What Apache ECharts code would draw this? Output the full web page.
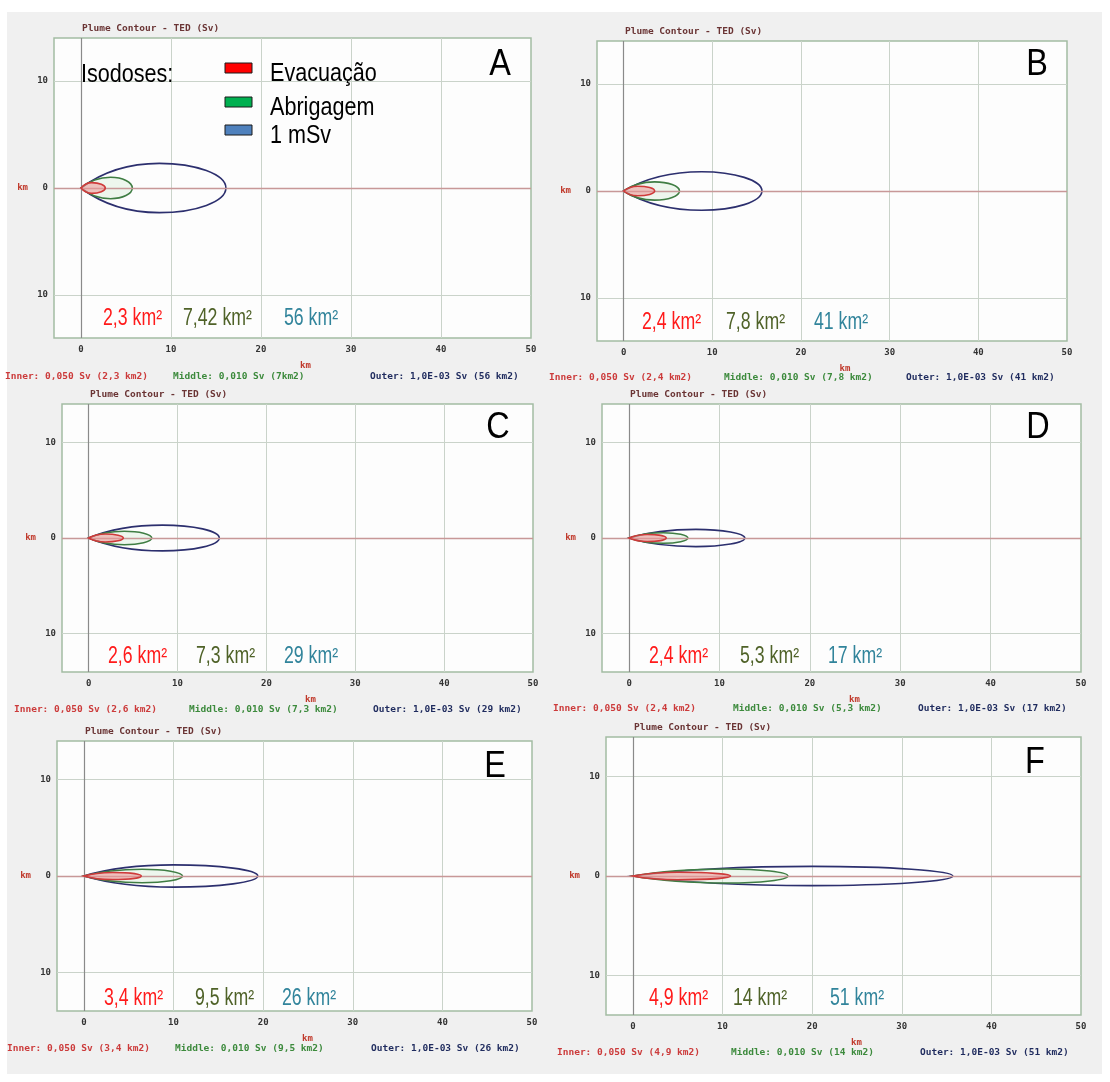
<!DOCTYPE html>
<html>
<head>
<meta charset="utf-8">
<script src="https://cdn.jsdelivr.net/npm/echarts@6/dist/echarts.min.js"></script>
<style>
  html, body { margin: 0; padding: 0; background: #fff; }
  .frame { position: absolute; left: 7px; top: 12px; width: 1095px; height: 1062px; background: #f0f0f0; }
  #chart { position: absolute; left: 0; top: 0; width: 1110px; height: 1082px; }
</style>
</head>
<body>
<div class="frame"></div>
<div id="chart"></div>
<script>
// painéis
const panels = ['A', 'B', 'C', 'D', 'E', 'F']

// contornos: [início km, fim km, meia largura máx km, posição da largura máx km]
const innerPlume = [[0, 2.7, 0.5, 1.2], [0, 3.5, 0.45, 1.6], [0, 3.9, 0.42, 1.9], [0, 4.1, 0.36, 2.0], [0, 6.4, 0.37, 3.2], [0, 10.9, 0.38, 5.0]]
const middlePlume = [[0, 5.7, 1.0, 3.3], [0, 6.3, 0.85, 3.5], [0, 7.1, 0.7, 4.0], [0, 6.5, 0.55, 3.8], [0, 11.0, 0.7, 6.5], [0, 17.3, 0.71, 10.5]]
const outerPlume = [[0, 16.1, 2.3, 8.7], [0, 15.6, 1.8, 8.8], [0, 14.7, 1.35, 8.3], [0, 12.8, 0.9, 7.4], [0, 19.4, 1.15, 10.0], [0, 35.7, 0.97, 20.0]]

// áreas anotadas
const areaInner = ['2,3 km²', '2,4 km²', '2,6 km²', '2,4 km²', '3,4 km²', '4,9 km²']
const areaMiddle = ['7,42 km²', '7,8 km²', '7,3 km²', '5,3 km²', '9,5 km²', '14 km²']
const areaOuter = ['56 km²', '41 km²', '29 km²', '17 km²', '26 km²', '51 km²']

// rodapés
const innerNotes = ['Inner: 0,050 Sv (2,3 km2)', 'Inner: 0,050 Sv (2,4 km2)', 'Inner: 0,050 Sv (2,6 km2)', 'Inner: 0,050 Sv (2,4 km2)', 'Inner: 0,050 Sv (3,4 km2)', 'Inner: 0,050 Sv (4,9 km2)']
const middleNotes = ['Middle: 0,010 Sv (7km2)', 'Middle: 0,010 Sv (7,8 km2)', 'Middle: 0,010 Sv (7,3 km2)', 'Middle: 0,010 Sv (5,3 km2)', 'Middle: 0,010 Sv (9,5 km2)', 'Middle: 0,010 Sv (14 km2)']
const outerNotes = ['Outer: 1,0E-03 Sv (56 km2)', 'Outer: 1,0E-03 Sv (41 km2)', 'Outer: 1,0E-03 Sv (29 km2)', 'Outer: 1,0E-03 Sv (17 km2)', 'Outer: 1,0E-03 Sv (26 km2)', 'Outer: 1,0E-03 Sv (51 km2)']

const legendNames = ['Evacuação', 'Abrigagem', '1 mSv']
const chartTitle = 'Plume Contour - TED (Sv)'

// posições (px): grade, letra, anotações, rodapé
const layout = [
  { grid: [54, 38, 477, 300], letter: [500, 65], area: [103, 183, 284, 319], note: [5, 173, 370, 377] },
  { grid: [597, 41, 470, 300], letter: [1037, 65], area: [642, 726, 814, 323], note: [549, 724, 906, 378] },
  { grid: [62, 404, 471, 268], letter: [498, 428], area: [108, 196, 284, 657], note: [14, 189, 373, 710] },
  { grid: [602, 404, 479, 268], letter: [1038, 428], area: [649, 740, 828, 657], note: [553, 733, 918, 709] },
  { grid: [57, 741, 475, 270], letter: [495, 767], area: [104, 195, 282, 999], note: [7, 175, 371, 1049] },
  { grid: [606, 737, 475, 278], letter: [1035, 763], area: [649, 733, 830, 999], note: [557, 731, 920, 1053] }
]

const MONO = 'DejaVu Sans Mono'
const SANS = '"Liberation Sans", Arial, sans-serif'

// desenha a pluma (forma de gota) com as escalas do eixo
function plumeRenderer (stroke, fill) {
  return function (params, api) {
    const x0 = api.value(0)
    const x1 = api.value(1)
    const w = api.value(2)
    const xp = api.value(3)
    const p = (x, y) => api.coord([x, y]).map(v => v.toFixed(2)).join(',')
    const a1 = x0 + 0.25 * (xp - x0)
    const a2 = x0 + 0.6 * (xp - x0)
    const b1 = xp + 0.55 * (x1 - xp)
    const d = 'M' + p(x0, 0) +
      ' C' + p(a1, 0.6 * w) + ' ' + p(a2, w) + ' ' + p(xp, w) +
      ' C' + p(b1, w) + ' ' + p(x1, 0.55 * w) + ' ' + p(x1, 0) +
      ' C' + p(x1, -0.55 * w) + ' ' + p(b1, -w) + ' ' + p(xp, -w) +
      ' C' + p(a2, -w) + ' ' + p(a1, -0.6 * w) + ' ' + p(x0, 0) + ' Z'
    return {
      type: 'path',
      shape: { pathData: d },
      style: { fill: fill, stroke: stroke, lineWidth: 1.6 }
    }
  }
}

// texto estreito (tipo Arial Narrow)
function narrowText (text, x, y, size, color, scale) {
  return {
    type: 'text', x: x, y: y, z: 100, scaleX: scale,
    style: { text: text, fill: color, font: size + 'px ' + SANS, align: 'left', verticalAlign: 'middle' }
  }
}

const grid = []
const xAxis = []
const yAxis = []
const series = []
const title = []
const graphic = []

panels.forEach((name, i) => {
  const L = layout[i]
  const [gl, gt, gw, gh] = L.grid
  grid.push({
    left: gl, top: gt, width: gw, height: gh,
    show: true, backgroundColor: '#fdfdfd', borderColor: '#a3bca3', borderWidth: 1.5
  })
  xAxis.push({
    gridIndex: i, type: 'value', min: -3, max: 50,
    splitNumber: 5, minInterval: 10, maxInterval: 10,
    axisLine: { show: false }, axisTick: { show: false },
    axisLabel: {
      formatter: v => (v % 10 === 0 ? String(v) : ''),
      color: '#333', fontFamily: MONO, fontWeight: 'bold', fontSize: 9, margin: 7
    },
    splitLine: { show: true, showMinLine: false, showMaxLine: false, lineStyle: { color: '#cad3ca', width: 1 } },
    name: 'km', nameLocation: 'middle', nameGap: 23,
    nameTextStyle: { color: '#c0392b', fontFamily: MONO, fontWeight: 'bold', fontSize: 9, padding: [0, 0, 0, 26] }
  })
  yAxis.push({
    gridIndex: i, type: 'value', min: -14, max: 14,
    splitNumber: 3, minInterval: 10, maxInterval: 10,
    axisLine: { show: false }, axisTick: { show: false },
    axisLabel: {
      formatter: v => (v % 10 === 0 ? String(Math.abs(v)) : ''),
      color: '#333', fontFamily: MONO, fontWeight: 'bold', fontSize: 9, margin: 6
    },
    splitLine: { show: true, showMinLine: false, showMaxLine: false, lineStyle: { color: '#cad3ca', width: 1 } },
    name: 'km', nameLocation: 'middle', nameRotate: 0, nameGap: 26,
    nameTextStyle: { color: '#c0392b', fontFamily: MONO, fontWeight: 'bold', fontSize: 9 }
  })
  // linhas de referência x = 0 e y = 0
  series.push({
    type: 'line', xAxisIndex: i, yAxisIndex: i, data: [], z: 1, silent: true,
    markLine: {
      silent: true, symbol: ['none', 'none'], label: { show: false },
      lineStyle: { type: 'solid', width: 1.2 },
      data: [
        { xAxis: 0, lineStyle: { color: '#8a8a8a', type: 'solid' } },
        { yAxis: 0, lineStyle: { color: '#c89898', type: 'solid', width: 1.4 } }
      ]
    }
  })
  series.push({
    name: legendNames[2], type: 'custom', xAxisIndex: i, yAxisIndex: i, z: 3,
    renderItem: plumeRenderer('#2c2f6e', 'none'), data: [outerPlume[i]]
  })
  series.push({
    name: legendNames[1], type: 'custom', xAxisIndex: i, yAxisIndex: i, z: 4,
    renderItem: plumeRenderer('#3f7d43', 'rgba(205,232,205,0.35)'), data: [middlePlume[i]]
  })
  series.push({
    name: legendNames[0], type: 'custom', xAxisIndex: i, yAxisIndex: i, z: 5,
    renderItem: plumeRenderer('#cf3a3a', 'rgba(238,150,150,0.55)'), data: [innerPlume[i]]
  })

  title.push({
    text: chartTitle, left: gl + 28, top: gt - 14, padding: 0,
    textStyle: { color: '#6a3434', fontFamily: MONO, fontWeight: 'bold', fontSize: 9.5 }
  })

  graphic.push({
    type: 'text', x: L.letter[0], y: L.letter[1], z: 100, scaleX: 0.9,
    style: { text: name, fill: '#000', font: '36px ' + SANS, align: 'center', verticalAlign: 'middle' }
  })
  const areaColors = ['#ff1a1a', '#4f6228', '#31849b']
  const areas = [areaInner[i], areaMiddle[i], areaOuter[i]]
  areas.forEach((t, k) => {
    graphic.push(narrowText(t, L.area[k], L.area[3], 23, areaColors[k], 0.77))
  })
  const noteColors = ['#cc3b3b', '#3c8a3c', '#1f2b5e']
  const notes = [innerNotes[i], middleNotes[i], outerNotes[i]]
  notes.forEach((t, k) => {
    graphic.push({
      type: 'text', x: L.note[k], y: L.note[3], z: 100,
      style: { text: t, fill: noteColors[k], font: 'bold 9.5px ' + MONO, align: 'left', verticalAlign: 'middle' }
    })
  })
})

// legenda "Isodoses" do painel A
const legendColors = ['#ff0000', '#00b050', '#4f81bd']
const legendY = [68, 102, 130]
graphic.push(narrowText('Isodoses:', 81, 75, 26, '#000', 0.83))
legendNames.forEach((t, k) => {
  graphic.push({
    type: 'rect', z: 100,
    shape: { x: 225, y: legendY[k] - 5, width: 27, height: 10 },
    style: { fill: legendColors[k], stroke: '#1a1a1a', lineWidth: 1 }
  })
  graphic.push(narrowText(t, 270, legendY[k] + 6, 26, '#000', 0.83))
})

const chart = echarts.init(document.getElementById('chart'))
chart.setOption({
  animation: false,
  backgroundColor: 'transparent',
  title: title,
  grid: grid,
  xAxis: xAxis,
  yAxis: yAxis,
  series: series,
  graphic: graphic
})
</script>
</body>
</html>
